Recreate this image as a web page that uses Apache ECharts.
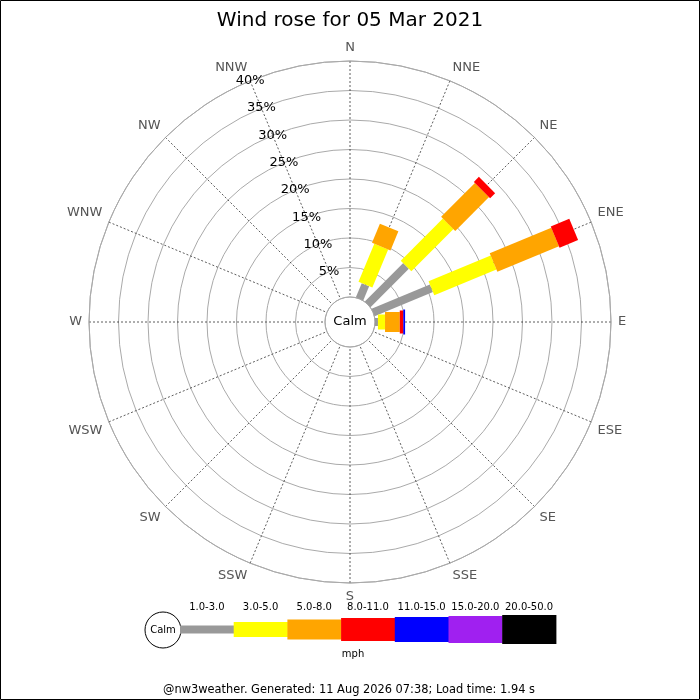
<!DOCTYPE html>
<html>
<head>
<meta charset="utf-8">
<script src="https://cdn.jsdelivr.net/npm/echarts@6/dist/echarts.min.js"></script>
<style>
html,body{margin:0;padding:0;background:#fff;}
#chart{width:700px;height:700px;}
</style>
</head>
<body>
<div id="chart"></div>
<script>
// ---- data ----
const directions = ['N','NNE','NE','ENE','E','ESE','SE','SSE','S','SSW','SW','WSW','W','WNW','NW','NNW'];
const speedBins = ['1.0-3.0','3.0-5.0','5.0-8.0','8.0-11.0','11.0-15.0','15.0-20.0','20.0-50.0'];
const binColors = ['#999999','#ffff00','#ffa500','#ff0000','#0000ff','#a020f0','#000000'];
// percentage of time per direction, for each speed bin (mph)
const speed1to3   = [0, 2.6,  9.2, 10.7, 0.5, 0,0,0,0,0,0,0,0,0,0,0];
const speed3to5   = [0, 7.0, 10.1, 11.4, 1.2, 0,0,0,0,0,0,0,0,0,0,0];
const speed5to8   = [0, 3.5,  8.1, 11.3, 2.5, 0,0,0,0,0,0,0,0,0,0,0];
const speed8to11  = [0, 0,    1.2,  3.4, 0.6, 0,0,0,0,0,0,0,0,0,0,0];
const speed11to15 = [0, 0,    0,    0,   0.3, 0,0,0,0,0,0,0,0,0,0,0];
const speed15to20 = [0, 0,    0,    0,   0,   0,0,0,0,0,0,0,0,0,0,0];
const speed20to50 = [0, 0,    0,    0,   0,   0,0,0,0,0,0,0,0,0,0,0];
const radialTicks = [0, 5, 10, 15, 20, 25, 30, 35, 40];
const titleText = 'Wind rose for 05 Mar 2021';
const footerText = '@nw3weather. Generated: 11 Aug 2026 07:38; Load time: 1.94 s';
const unitText = 'mph';
const calmText = 'Calm';

// ---- styles ----
const FONT = 'DejaVu Sans';
const barWidths = [8, 15, 20, 23, 25, 27, 29];
const STEP = 360 / directions.length;

const binValues = [speed1to3, speed3to5, speed5to8, speed8to11, speed11to15, speed15to20, speed20to50];

// cumulative stacking
const cum = directions.map(() => 0);
const series = binValues.map((vals, b) => {
  const data = [];
  vals.forEach((v, i) => {
    const start = cum[i];
    const end = start + v;
    cum[i] = end;
    data.push([end, i * STEP, start]);
  });
  const w = barWidths[b];
  const color = binColors[b];
  return {
    type: 'custom',
    name: speedBins[b],
    coordinateSystem: 'polar',
    data: data,
    silent: true,
    z: 5,
    renderItem: function (params, api) {
      const end = api.value(0), ang = api.value(1), start = api.value(2);
      if (!(end - start > 0)) return null;
      const p0 = api.coord([start, ang]);
      const p1 = api.coord([end, ang]);
      const dx = p1[0] - p0[0], dy = p1[1] - p0[1];
      const L = Math.hypot(dx, dy) || 1;
      const nx = -dy / L * w / 2, ny = dx / L * w / 2;
      return {
        type: 'polygon',
        shape: { points: [
          [p0[0] + nx, p0[1] + ny], [p1[0] + nx, p1[1] + ny],
          [p1[0] - nx, p1[1] - ny], [p0[0] - nx, p0[1] - ny]
        ] },
        style: { fill: color, stroke: null }
      };
    }
  };
});

// ---- legend graphics ----
const legendX0 = 180, legendBoxW = 53.7, legendCy = 629.5;
const graphics = [];
graphics.push({ type: 'rect', shape: { x: 0.5, y: 0.5, width: 699, height: 699 },
  style: { fill: 'none', stroke: '#000', lineWidth: 1 }, z: 100 });
graphics.push({ type: 'text', x: 350, y: 322, style: { text: calmText, font: '13px "' + FONT + '"', fill: '#000', align: 'center', verticalAlign: 'middle' }, z: 50 });
graphics.push({ type: 'circle', shape: { cx: 163, cy: 630, r: 18 }, style: { fill: '#fff', stroke: '#000', lineWidth: 1 } });
graphics.push({ type: 'text', x: 163, y: 630, style: { text: calmText, font: '10px "' + FONT + '"', fill: '#000', align: 'center', verticalAlign: 'middle' } });
speedBins.forEach((lab, b) => {
  const h = barWidths[b];
  graphics.push({ type: 'rect', shape: { x: legendX0 + b * legendBoxW, y: legendCy - h / 2, width: legendBoxW + 0.5, height: h },
    style: { fill: binColors[b] } });
  graphics.push({ type: 'text', x: legendX0 + (b + 0.5) * legendBoxW, y: 607,
    style: { text: lab, font: '10px "' + FONT + '"', fill: '#000', align: 'center', verticalAlign: 'middle' } });
});
graphics.push({ type: 'text', x: 353, y: 654, style: { text: unitText, font: '10px "' + FONT + '"', fill: '#000', align: 'center', verticalAlign: 'middle' } });
graphics.push({ type: 'text', x: 349, y: 690, style: { text: footerText, font: '11.4px "' + FONT + '"', fill: '#000', align: 'center', verticalAlign: 'middle' } });

const chart = echarts.init(document.getElementById('chart'), null, { renderer: 'canvas' });
chart.setOption({
  animation: false,
  backgroundColor: '#fff',
  title: {
    text: titleText, left: 'center', top: 6,
    textStyle: { fontSize: 20, fontWeight: 'normal', fontFamily: FONT, color: '#000' }
  },
  polar: { center: [350, 322], radius: [25, 261] },
  angleAxis: {
    type: 'value', min: -STEP, max: 360 - STEP, interval: STEP,
    startAngle: 90 + STEP, clockwise: true,
    axisLine: { show: true, lineStyle: { color: '#aaaaaa', width: 1 } },
    axisTick: { show: false },
    axisLabel: {
      show: true, margin: 7, color: '#555', fontSize: 13, fontFamily: FONT,
      formatter: function (v) { const k = ((Math.round(v / STEP) % 16) + 16) % 16; return directions[k]; }
    },
    splitLine: { show: true, lineStyle: { color: '#333', width: 0.8, type: [2, 2] } }
  },
  radiusAxis: {
    type: 'value', min: radialTicks[0], max: radialTicks[radialTicks.length - 1], interval: 5,
    axisLine: { show: false }, axisTick: { show: false },
    axisLabel: {
      show: true, margin: 0, align: 'center', verticalAlign: 'middle',
      color: '#000', fontSize: 13, fontFamily: FONT,
      formatter: function (v) { return v === 0 ? '' : v + '%'; }
    },
    splitLine: { show: true, lineStyle: { color: '#aaaaaa', width: 1 } }
  },
  series: series,
  graphic: { elements: graphics }
});
</script>
</body>
</html>
